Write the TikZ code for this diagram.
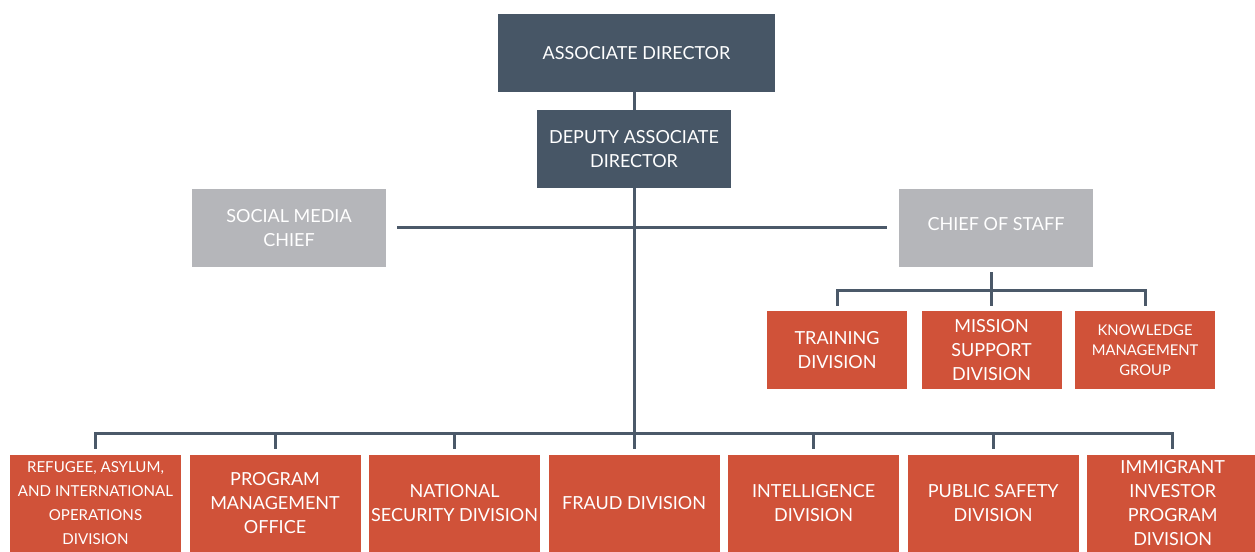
\documentclass[tikz,border=0pt]{standalone}
\usepackage{fontspec}
\setmainfont{Lato}
\usepackage{xcolor}
\usetikzlibrary{positioning}
\definecolor{slate}{HTML}{475666}
\definecolor{staffgray}{HTML}{B5B6BA}
\definecolor{divred}{HTML}{D05239}
\definecolor{linkgray}{HTML}{4B5969}

\begin{document}
\begin{tikzpicture}
      [x=0.75pt, y=-0.75pt,
       box/.style={rectangle, text=white, align=center, inner sep=0pt,
                   font=\fontsize{13.5}{18}\selectfont},
       headbox/.style={box, fill=slate, minimum height=58.5pt},
       staffbox/.style={box, fill=staffgray, minimum width=145.5pt, minimum height=58.5pt},
       unitbox/.style={box, fill=divred, minimum width=105pt, minimum height=58.5pt},
       divbox/.style={box, fill=divred, minimum width=128.25pt, minimum height=72.75pt},
       small/.style={font=\fontsize{11.3}{18}\selectfont},
       smaller/.style={font=\fontsize{11.1}{15}\selectfont},
       link/.style={draw=linkgray, line width=2.25pt}]

      \useasboundingbox (0,0) rectangle (1255,552);
      \clip (0,0) rectangle (1255,552);

      %nodes
      \node[headbox, minimum width=207.75pt] (ad) at (636.5,53) {ASSOCIATE DIRECTOR};
      \node[headbox, minimum width=145.5pt] (dad) at (634,149) {DEPUTY ASSOCIATE\\DIRECTOR};
      \node[staffbox] (smc) at (289,228) {SOCIAL MEDIA\\CHIEF};
      \node[staffbox] (cos) at (996,228) {\raisebox{6.75pt}{CHIEF OF STAFF}};

      \node[unitbox] (training) at (837,350) {TRAINING\\DIVISION};
      \node[unitbox, right=10.5pt of training] (mission) {MISSION\\SUPPORT\\DIVISION};
      \node[unitbox, smaller, right=9.75pt of mission] (knowledge) {KNOWLEDGE\\MANAGEMENT\\GROUP};

      \node[divbox, small] (refugee) at (95.5,503.5) {REFUGEE, ASYLUM,\\AND INTERNATIONAL\\OPERATIONS\\DIVISION};
      \node[divbox, right=6pt of refugee] (program) {PROGRAM\\MANAGEMENT\\OFFICE};
      \node[divbox, right=6pt of program] (security) {NATIONAL\\SECURITY DIVISION};
      \node[divbox, right=6pt of security] (fraud) {FRAUD DIVISION};
      \node[divbox, right=6pt of fraud] (intel) {INTELLIGENCE\\DIVISION};
      \node[divbox, right=6pt of intel] (safety) {PUBLIC SAFETY\\DIVISION};
      \node[divbox, right=6pt of safety] (investor) {IMMIGRANT\\INVESTOR\\PROGRAM\\DIVISION};

      \coordinate (bus) at (633,433);
      \coordinate (cbus) at (992,290);

      % edges %
      \draw[link] (dad.north |- ad.south) -- (dad.north);
      \draw[link] (dad.south) -- (bus -| dad);
      \draw[link] ([xshift=8.25pt]smc.east) -- ([xshift=-9pt]cos.west);

      \draw[link, shorten <=3.75pt, shorten >=3.75pt] (mission.north |- cos.south) -- (mission.north);
      \draw[link] ([yshift=3.75pt]training.north) |- (cbus) -| ([yshift=3.75pt]knowledge.north);

      \draw[link] ([yshift=4.5pt]refugee.north) |- (bus) -| ([yshift=4.5pt]investor.north);
      \draw[link] (bus -| program) -- ([yshift=4.5pt]program.north);
      \draw[link] (bus -| security) -- ([yshift=4.5pt]security.north);
      \draw[link] (bus -| fraud) -- ([yshift=4.5pt]fraud.north);
      \draw[link] (bus -| intel) -- ([yshift=4.5pt]intel.north);
      \draw[link] (bus -| safety) -- ([yshift=4.5pt]safety.north);
\end{tikzpicture}
\end{document}
